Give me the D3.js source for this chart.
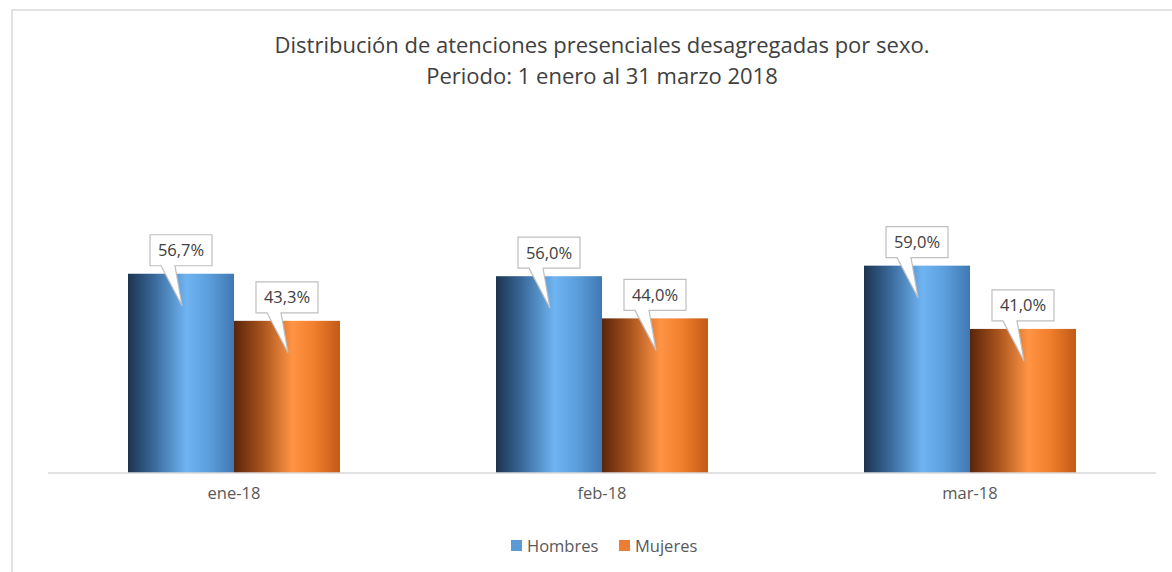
<!DOCTYPE html>
<html lang="en">
<head>
<meta charset="utf-8">
<title>Distribución de atenciones presenciales</title>
<script src="https://d3js.org/d3.v7.min.js"></script>
<style>
  body { margin: 0; background: #fff; }
  text { font-family: "Open Sans", "Noto Sans", sans-serif; }
</style>
</head>
<body>
<div id="chart"></div>
<script>
// data
var months = ["ene-18", "feb-18", "mar-18"];
var seriesNames = ["Hombres", "Mujeres"];
var hombres = [56.7, 56.0, 59.0];
var mujeres = [43.3, 44.0, 41.0];
var titleLines = ["Distribución de atenciones presenciales desagregadas por sexo.",
                  "Periodo: 1 enero al 31 marzo 2018"];

var w = 1172, h = 572;
var plotLeft = 50, plotRight = 1154, plotTop = 227, plotBottom = 473;

var svg = d3.select("#chart").append("svg")
  .attr("width", w).attr("height", h);

// gradients
var defs = svg.append("defs");
function grad(id, stops) {
  var g = defs.append("linearGradient").attr("id", id)
    .attr("x1", "0%").attr("x2", "100%").attr("y1", "0%").attr("y2", "0%");
  stops.forEach(function(s) {
    g.append("stop").attr("offset", s[0]).attr("stop-color", s[1]);
  });
}
grad("gBlue", [["0%", "#1d344f"], ["25%", "#3a6a9c"], ["55%", "#6fb4f2"], ["75%", "#5da0df"], ["100%", "#3f78b2"]]);
grad("gOrange", [["0%", "#5a250a"], ["25%", "#a4501c"], ["55%", "#ff9445"], ["75%", "#f27f2c"], ["100%", "#c05a17"]]);

// chart border
svg.append("rect")
  .attr("x", 12).attr("y", 10).attr("width", 1200).attr("height", 600)
  .attr("fill", "none").attr("stroke", "#d9d9d9").attr("stroke-width", 1.5);

// title
svg.selectAll(".title").data(titleLines).enter().append("text")
  .attr("x", 602).attr("y", function(d, i) { return 53 + i * 31; })
  .attr("text-anchor", "middle")
  .attr("font-size", 22)
  .attr("fill", "#404040")
  .text(function(d) { return d; });

var xScale = d3.scaleBand().domain(months).range([plotLeft, plotRight]);
var xInner = d3.scaleBand().domain(seriesNames)
  .range([0, xScale.bandwidth()]).paddingInner(0).paddingOuter(0.736);
var yScale = d3.scaleLinear().domain([0, 70]).range([plotBottom, plotTop]);

var rows = months.map(function(m, i) {
  return [{ m: m, s: "Hombres", v: hombres[i] }, { m: m, s: "Mujeres", v: mujeres[i] }];
});
var flat = [].concat.apply([], rows);

svg.selectAll(".bar").data(flat).enter().append("rect")
  .attr("class", "bar")
  .attr("x", function(d) { return xScale(d.m) + xInner(d.s); })
  .attr("y", function(d) { return yScale(d.v); })
  .attr("width", xInner.bandwidth())
  .attr("height", function(d) { return plotBottom - yScale(d.v); })
  .attr("fill", function(d) { return d.s == "Hombres" ? "url(#gBlue)" : "url(#gOrange)"; });

// x axis
var xAxis = d3.axisBottom(xScale).tickSize(0).tickPadding(14);
var ax = svg.append("g")
  .attr("transform", "translate(0," + plotBottom + ")")
  .call(xAxis);
ax.select(".domain").attr("stroke", "#d9d9d9").attr("stroke-width", 1.5)
  .attr("d", "M" + (plotLeft - 2) + ",0H" + (plotRight + 2));
ax.selectAll("text").attr("font-size", 16.5).attr("fill", "#595959")
  .style("font-family", "'Open Sans', sans-serif");

// callouts
function fmt(v) { return v.toFixed(1).replace(".", ",") + "%"; }
var bw = 62, bh = 31;
var co = svg.selectAll(".callout").data(flat).enter().append("g").attr("class", "callout");
co.append("path")
  .attr("d", function(d) {
    var cx = xScale(d.m) + xInner(d.s) + xInner.bandwidth() / 2;
    var yt = yScale(d.v);
    var x0 = cx - bw / 2, y0 = yt - 8 - bh, y1 = yt - 8;
    var tipX = cx + 1, tipY = yt + 32;
    return "M" + x0 + "," + y0 + "H" + (x0 + bw) + "V" + y1 +
      "H" + (cx - 6) + "L" + tipX + "," + tipY + "L" + (cx - 20) + "," + y1 +
      "H" + x0 + "Z";
  })
  .attr("fill", "#fff").attr("stroke", "#bfbfbf").attr("stroke-width", 1.2);
co.append("text")
  .attr("x", function(d) { return xScale(d.m) + xInner(d.s) + xInner.bandwidth() / 2; })
  .attr("y", function(d) { return yScale(d.v) - 8 - bh / 2 + 6; })
  .attr("text-anchor", "middle")
  .attr("font-size", 16.5).attr("fill", "#404040")
  .text(function(d) { return fmt(d.v); });

// legend
var legendX = [511, 619];
var lg = svg.selectAll(".legend").data(seriesNames).enter().append("g")
  .attr("transform", function(d, i) { return "translate(" + legendX[i] + ",540)"; });
lg.append("rect").attr("width", 11).attr("height", 11)
  .attr("fill", function(d, i) { return i == 0 ? "#5b9bd5" : "#ed7d31"; });
lg.append("text").attr("x", 16).attr("y", 12)
  .attr("font-size", 16.5).attr("fill", "#595959")
  .text(function(d) { return d; });
</script>
</body>
</html>
